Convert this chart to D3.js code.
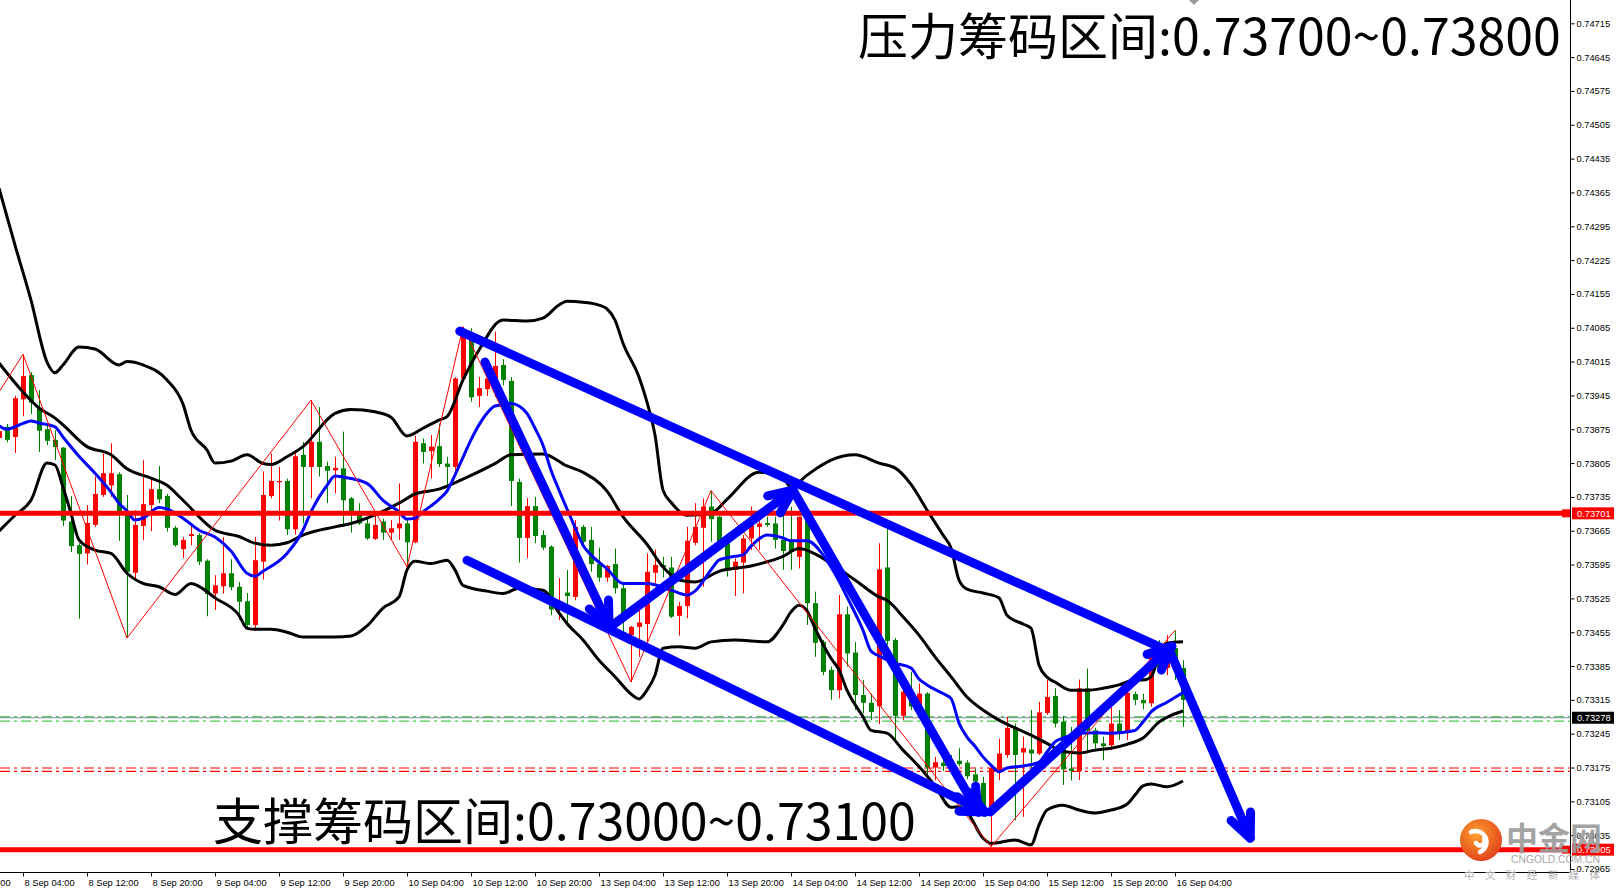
<!DOCTYPE html>
<html><head><meta charset="utf-8">
<script src="https://cdn.jsdelivr.net/npm/d3@7"></script>
<style>
html,body{margin:0;padding:0;background:#fff;overflow:hidden}
svg{display:block}
</style></head><body>
<svg id="c" width="1616" height="891"></svg>
<script>
// ---------------- DATA ----------------
// hourly bars, bar 0 = 8 Sep 01:00 (weekend hours skipped)
const opens=[.73857,.73880,.73859,.73937,.73987,.73919,.73875,.73853,.73837,.73684,
.73635,.73618,.73677,.73739,.73759,.73782,.73699,.73578,.73675,.73718,
.73751,.73737,.73671,.73627,.73654,.73656,.73603,.73535,.73550,.73577,
.73549,.73519,.73470,.73601,.73737,.73766,.73768,.73668,.73822,.73797,
.73849,.73799,.73790,.73794,.73732,.73704,.73680,.73648,.73684,.73661,
.73670,.73680,.73641,.73846,.73830,.73840,.73804,.73797,.73980,.74063,
.73944,.73958,.73977,.74008,.73975,.73766,.73650,.73716,.73656,.73632,
.73501,.73537,.73528,.73673,.73646,.73596,.73568,.73596,.73546,.73449,
.73466,.73472,.73578,.73594,.73589,.73489,.73509,.73640,.73671,.73715,
.73694,.73639,.73584,.73599,.73649,.73673,.73681,.73680,.73646,.73646,
.73611,.73687,.73515,.73435,.73377,.73335,.73492,.73413,.73325,.73309,
.73302,.73589,.73439,.73282,.73321,.73297,.73328,.73175,.73185,.73184,
.73189,.73185,.73161,.73143,.73083,.73170,.73201,.73258,.73206,.73212,
.73204,.73288,.73323,.73270,.73173,.73168,.73339,.73252,.73225,.73221,
.73266,.73246,.73327,.73315,.73308,.73416,.73381,.73422,.73381];
const highs=[.73877,.73886,.73944,.74030,.73993,.73956,.73886,.73873,.73838,.73737,
.73639,.73718,.73777,.73825,.73846,.73786,.73739,.73708,.73811,.73770,
.73799,.73741,.73675,.73652,.73677,.73660,.73606,.73573,.73652,.73606,
.73559,.73536,.73652,.73788,.73825,.73797,.73773,.73832,.73849,.73935,
.73921,.73808,.73818,.73870,.73735,.73722,.73690,.73701,.73690,.73687,
.73763,.73690,.73861,.73856,.73863,.73887,.73818,.73983,.74087,.74084,
.73983,.73994,.74077,.74020,.73983,.73773,.73733,.73735,.73666,.73635,
.73567,.73584,.73687,.73677,.73673,.73630,.73594,.73628,.73559,.73468,
.73521,.73618,.73626,.73611,.73611,.73518,.73673,.73722,.73732,.73748,
.73695,.73649,.73608,.73656,.73715,.73697,.73694,.73694,.73697,.73715,
.73694,.73691,.73539,.73439,.73384,.73532,.73508,.73435,.73356,.73328,
.73639,.73684,.73443,.73342,.73373,.73349,.73331,.73197,.73194,.73201,
.73215,.73190,.73173,.73156,.73177,.73235,.73280,.73266,.73239,.73294,
.73311,.73356,.73339,.73282,.73259,.73357,.73380,.73257,.73239,.73315,
.73294,.73342,.73332,.73328,.73425,.73439,.73449,.73459,.73397];
const lows=[.73853,.73848,.73826,.73902,.73906,.73828,.73842,.73811,.73675,.73621,
.73483,.73595,.73673,.73735,.73735,.73644,.73443,.73564,.73646,.73664,
.73722,.73663,.73632,.73608,.73635,.73594,.73488,.73501,.73535,.73542,
.73481,.73463,.73459,.73564,.73732,.73686,.73656,.73657,.73680,.73732,
.73777,.73722,.73742,.73673,.73661,.73677,.73646,.73646,.73646,.73646,
.73646,.73590,.73639,.73804,.73773,.73797,.73756,.73790,.73977,.73932,
.73921,.73944,.73942,.73966,.73716,.73599,.73608,.73639,.73625,.73490,
.73480,.73474,.73521,.73635,.73580,.73559,.73559,.73535,.73439,.73352,
.73404,.73414,.73555,.73568,.73484,.73448,.73484,.73635,.73549,.73642,
.73630,.73570,.73530,.73535,.73625,.73625,.73673,.73628,.73584,.73584,
.73587,.73470,.73404,.73366,.73315,.73318,.73384,.73294,.73287,.73273,
.73265,.73428,.73232,.73273,.73294,.73287,.73156,.73149,.73168,.73166,
.73178,.73151,.73128,.73073,.73011,.73149,.73195,.73066,.73073,.73163,
.73201,.73284,.73258,.73139,.73148,.73149,.73204,.73208,.73190,.73211,
.73232,.73232,.73304,.73295,.73301,.73373,.73366,.73356,.73259];
const closes=[.73871,.73853,.73939,.73985,.73930,.73872,.73851,.73838,.73686,.73633,
.73617,.73681,.73741,.73784,.73784,.73704,.73580,.73677,.73720,.73751,
.73730,.73671,.73635,.73646,.73658,.73601,.73534,.73552,.73577,.73548,
.73518,.73470,.73604,.73739,.73768,.73768,.73668,.73819,.73797,.73849,
.73797,.73789,.73795,.73728,.73704,.73680,.73649,.73677,.73661,.73670,
.73680,.73641,.73849,.73828,.73839,.73803,.73797,.73980,.74066,.73941,
.73960,.73980,.74006,.73977,.73768,.73650,.73716,.73654,.73630,.73502,
.73511,.73530,.73673,.73642,.73596,.73568,.73592,.73546,.73487,.73466,
.73475,.73580,.73594,.73590,.73487,.73509,.73644,.73673,.73715,.73689,
.73639,.73587,.73601,.73649,.73677,.73680,.73677,.73646,.73623,.73621,
.73694,.73515,.73433,.73373,.73335,.73492,.73411,.73325,.73309,.73290,
.73585,.73437,.73282,.73332,.73301,.73328,.73175,.73186,.73178,.73174,
.73182,.73157,.73146,.73077,.73174,.73204,.73257,.73201,.73215,.73204,
.73289,.73321,.73266,.73171,.73168,.73339,.73251,.73225,.73219,.73266,
.73247,.73330,.73315,.73308,.73417,.73381,.73428,.73381,.73315];

// Bollinger bands [bar, price]
const upperBand=[[0,.74374],[2,.74256],[4,.74142],[6,.74014],[7,.73992],[8,.74008],[10,.74045],[12,.74041],[15,.74008],[16,.74015],[18,.74008],[21,.73977],[23,.73927],[24,.73873],[26,.73832],[27,.73805],[29,.73809],[31,.73822],[33,.73804],[34,.73802],[36,.73818],[38,.73839],[42,.73908],[44,.73916],[47,.73911],[49,.73900],[51,.73861],[53,.73877],[55,.73894],[56,.73901],[58,.73977],[60,.74039],[63,.74101],[66,.74099],[68,.74105],[70,.74132],[71,.74140],[73,.74138],[75,.74132],[76,.74124],[77,.74101],[78,.74053],[80,.73983],[81,.73931],[82,.73863],[83,.73749],[84,.73724],[86,.73697],[89,.73701],[91,.73730],[95,.73786],[98,.73774],[99,.73755],[101,.73780],[104,.73811],[107,.73822],[110,.73805],[112,.73795],[114,.73761],[116,.73708],[118,.73656],[119,.73629],[120,.73563],[121,.73544],[123,.73536],[125,.73526],[126,.73490],[128,.73472],[129,.73463],[130,.73387],[131,.73362],[132,.73352],[134,.73335],[136,.73335],[138,.73339],[140,.73346],[142,.73356],[143,.73356],[144,.73362],[145,.73408],[146,.73432],[148,.73435]];
const middleBand=[[0,.74012],[3,.73952],[5,.73919],[7,.73898],[8,.73884],[11,.73839],[14,.73822],[16,.73793],[19,.73774],[21,.73759],[23,.73728],[27,.73666],[30,.73653],[32,.73639],[34,.73635],[36,.73640],[38,.73656],[42,.73673],[44,.73680],[46,.73691],[50,.73722],[52,.73741],[55,.73751],[58,.73772],[62,.73804],[64,.73822],[68,.73824],[71,.73799],[73,.73786],[76,.73747],[78,.73694],[81,.73637],[83,.73590],[85,.73563],[87,.73559],[90,.73581],[94,.73592],[98,.73612],[100,.73628],[102,.73617],[104,.73597],[107,.73563],[110,.73528],[111,.73521],[113,.73487],[115,.73449],[117,.73404],[119,.73363],[121,.73321],[123,.73294],[125,.73273],[127,.73257],[129,.73242],[131,.73225],[133,.73208],[135,.73205],[137,.73211],[139,.73215],[141,.73223],[143,.73236],[145,.73269],[146,.73279],[148,.73292]];
const lowerBand=[[0,.73664],[2,.73697],[4,.73728],[6,.73805],[7,.73801],[8,.73755],[9,.73701],[10,.73646],[12,.73625],[14,.73618],[16,.73577],[18,.73556],[20,.73549],[22,.73533],[24,.73556],[25,.73550],[27,.73526],[30,.73490],[31,.73463],[32,.73461],[34,.73461],[36,.73455],[38,.73445],[42,.73445],[44,.73447],[46,.73468],[48,.73505],[50,.73528],[51,.73584],[52,.73602],[54,.73597],[56,.73604],[57,.73584],[58,.73552],[61,.73540],[63,.73535],[65,.73546],[68,.73542],[70,.73495],[71,.73473],[73,.73439],[75,.73397],[77,.73363],[79,.73327],[80,.73317],[81,.73335],[82,.73366],[83,.73422],[85,.73425],[87,.73422],[89,.73435],[92,.73439],[96,.73435],[98,.73470],[99,.73497],[100,.73511],[101,.73499],[102,.73463],[104,.73401],[105,.73377],[106,.73335],[108,.73280],[109,.73252],[111,.73246],[113,.73211],[115,.73177],[117,.73137],[119,.73093],[120,.73094],[121,.73083],[123,.73029],[124,.73018],[127,.73025],[129,.73015],[130,.73056],[131,.73087],[133,.73097],[135,.73087],[137,.73081],[139,.73087],[141,.73099],[142,.73118],[143,.73137],[144,.73141],[146,.73135],[148,.73147]];
// blue moving average
const maLine=[[0,.73882],[1,.73875],[3,.73887],[4,.73892],[5,.73888],[7,.73880],[8,.73859],[10,.73819],[12,.73784],[14,.73745],[15,.73722],[16,.73706],[17,.73687],[18,.73691],[20,.73713],[21,.73710],[23,.73691],[25,.73666],[27,.73652],[29,.73623],[31,.73577],[32,.73571],[33,.73581],[36,.73618],[38,.73666],[39,.73704],[41,.73759],[42,.73778],[43,.73776],[46,.73763],[48,.73728],[50,.73704],[51,.73689],[52,.73691],[53,.73704],[55,.73730],[56,.73747],[57,.73780],[58,.73817],[59,.73853],[60,.73884],[61,.73908],[62,.73923],[64,.73928],[65,.73923],[66,.73908],[67,.73877],[68,.73842],[69,.73790],[70,.73749],[71,.73710],[72,.73672],[73,.73635],[74,.73615],[76,.73586],[78,.73556],[81,.73556],[84,.73542],[86,.73532],[87,.73540],[89,.73584],[90,.73604],[92,.73612],[93,.73615],[94,.73633],[96,.73656],[98,.73650],[99,.73644],[101,.73644],[103,.73615],[104,.73590],[105,.73561],[106,.73528],[108,.73459],[109,.73416],[110,.73406],[112,.73391],[114,.73381],[115,.73358],[116,.73346],[118,.73328],[119,.73318],[120,.73267],[121,.73238],[122,.73219],[123,.73197],[124,.73180],[125,.73166],[126,.73174],[128,.73178],[130,.73186],[131,.73207],[132,.73228],[133,.73236],[135,.73246],[137,.73247],[139,.73246],[141,.73249],[142,.73252],[143,.73269],[144,.73290],[146,.73310],[148,.73330]];
// zigzag vertices
const zigzag=[[0,.73952],[3,.74030],[16,.73443],[39,.73935],[51,.73590],[58,.74087],[79,.73352],[89,.73748],[124,.73011],[147,.73459]];

// horizontal levels
const resistanceLevel=.73701, supportLevel=.73005, bidLevel=.73278;
const greenLevels=[.73280,.73271];
const redDashLevels=[.73174,.73167];

// price axis ticks
const priceTicks=[.72965,.73035,.73105,.73175,.73245,.73315,.73385,.73455,.73525,.73595,.73665,.73735,.73805,.73875,.73945,.74015,.74085,.74155,.74225,.74295,.74365,.74435,.74505,.74575,.74645,.74715];
// time axis ticks (bar index, label)
const timeTickBars=[-5,3,11,19,27,35,43,51,59,67,75,83,91,99,107,115,123,131,139,147];
const timeTickLabels=["7 Sep 20:00","8 Sep 04:00","8 Sep 12:00","8 Sep 20:00","9 Sep 04:00","9 Sep 12:00","9 Sep 20:00","10 Sep 04:00","10 Sep 12:00","10 Sep 20:00","13 Sep 04:00","13 Sep 12:00","13 Sep 20:00","14 Sep 04:00","14 Sep 12:00","14 Sep 20:00","15 Sep 04:00","15 Sep 12:00","15 Sep 20:00","16 Sep 04:00"];

// hand-drawn blue arrows [bar, price]
const arrowFrom=[[57.6,.74078],[60.75,.74014],[58.5,.73604],[76.25,.73464],[99.25,.73749],[123.9,.73083],[146.4,.73414]];
const arrowTo=[[145.4,.73422],[76.25,.73468],[123.25,.73083],[99.25,.73749],[122.4,.73083],[146.6,.73426],[156.4,.73029]];
const arrowHead=[false,true,true,true,true,true,true];

const resistText="压力筹码区间:0.73700~0.73800";
const supportText="支撑筹码区间:0.73000~0.73100";

// ---------------- DRAW ----------------
const svg=d3.select("#c");
const PR=1570, PB=872;
const x=d3.scaleLinear().domain([0,196]).range([-1,1567]);
const y=d3.scaleLinear().domain([0.72965,0.74715]).range([869,23.3]);

const plot=svg.append("g");
plot.append("defs").append("clipPath").attr("id","clip").append("rect").attr("x",0).attr("y",0).attr("width",PR).attr("height",PB);
const g=plot.append("g").attr("clip-path","url(#clip)");

// dashed levels
const dashes="10,4,3,4";
greenLevels.forEach(v=>g.append("line").attr("x1",0).attr("x2",PR).attr("y1",y(v)).attr("y2",y(v)).attr("stroke","#22b822").attr("stroke-width",1).attr("stroke-dasharray",dashes));
redDashLevels.forEach(v=>g.append("line").attr("x1",0).attr("x2",PR).attr("y1",y(v)).attr("y2",y(v)).attr("stroke","#ff0000").attr("stroke-width",1.2).attr("stroke-dasharray",dashes));
g.append("line").attr("x1",0).attr("x2",PR).attr("y1",y(bidLevel)).attr("y2",y(bidLevel)).attr("stroke","#778899").attr("stroke-width",1);

// candles
const bars=d3.range(opens.length);
const cg=g.append("g");
bars.forEach(i=>{
  const o=opens[i],c=closes[i],h=highs[i],l=lows[i];
  const col=c>=o?"#ff0000":"#008000";
  const cx=Math.round(x(i));
  cg.append("rect").attr("x",cx).attr("width",1).attr("y",y(h)).attr("height",Math.max(1,y(l)-y(h))).attr("fill",col);
  const top=y(Math.max(o,c)), bot=y(Math.min(o,c));
  cg.append("rect").attr("x",cx-2).attr("width",5).attr("y",top).attr("height",Math.max(1.2,bot-top)).attr("fill",col);
});

// bands & MA
const line=d3.line().x(d=>x(d[0])).y(d=>y(d[1])).curve(d3.curveMonotoneX);
[upperBand,middleBand,lowerBand].forEach(b=>g.append("path").attr("d",line(b)).attr("fill","none").attr("stroke","#000").attr("stroke-width",3).attr("stroke-linejoin","round"));
g.append("path").attr("d",line(maLine)).attr("fill","none").attr("stroke","#0000ff").attr("stroke-width",3).attr("stroke-linejoin","round");
// zigzag
g.append("path").attr("d",d3.line().x(d=>x(d[0])).y(d=>y(d[1]))(zigzag)).attr("fill","none").attr("stroke","#ff0000").attr("stroke-width",1);

// solid red levels
[resistanceLevel,supportLevel].forEach(v=>{
  g.append("line").attr("x1",0).attr("x2",PR).attr("y1",y(v)).attr("y2",y(v)).attr("stroke","#ff0000").attr("stroke-width",5);
  g.append("rect").attr("x",PR-8).attr("y",y(v)-4).attr("width",8).attr("height",8).attr("fill","#ff0000");
});

// arrows
const ag=svg.append("g").attr("stroke","#0000ff").attr("stroke-width",9).attr("stroke-linecap","round").attr("fill","none");
arrowFrom.forEach((f,k)=>{
  const x0=x(f[0]),y0=y(f[1]),x1=x(arrowTo[k][0]),y1=y(arrowTo[k][1]);
  ag.append("line").attr("x1",x0).attr("y1",y0).attr("x2",x1).attr("y2",y1);
  if(arrowHead[k]){
    const a=Math.atan2(y0-y1,x0-x1), L=26, s=0.42;
    [a-s,a+s].forEach(b=>ag.append("line").attr("x1",x1).attr("y1",y1).attr("x2",x1+L*Math.cos(b)).attr("y2",y1+L*Math.sin(b)));
  }
});

// axes
const axFont="Liberation Sans, Arial, sans-serif";
svg.append("line").attr("x1",PR+0.5).attr("x2",PR+0.5).attr("y1",0).attr("y2",PB).attr("stroke","#000");
svg.append("line").attr("x1",0).attr("x2",PR).attr("y1",PB+0.5).attr("y2",PB+0.5).attr("stroke","#000");
const ya=svg.append("g").attr("transform",`translate(${PR+0.5},0)`).call(d3.axisRight(y).tickValues(priceTicks).tickSize(4).tickSizeOuter(0).tickPadding(2).tickFormat(d3.format(".5f")));
ya.select(".domain").remove();
ya.selectAll("text").attr("font-family",axFont).attr("font-size",9.3).attr("fill","#000");
const xa=svg.append("g").attr("transform",`translate(0,${PB+0.5})`).call(d3.axisBottom(x).tickValues(timeTickBars).tickSize(4).tickSizeOuter(0).tickFormat((d,i)=>timeTickLabels[i]));
xa.select(".domain").remove();
xa.selectAll("text").attr("font-family",axFont).attr("font-size",9.3).attr("fill","#000").attr("text-anchor","start").attr("x",1).attr("y",7);

// price tags
function tag(v,bg){
  const cy=y(v);
  svg.append("rect").attr("x",PR+2).attr("y",cy-6).attr("width",42).attr("height",12).attr("fill",bg);
  svg.append("text").attr("x",PR+7).attr("y",cy+3.5).attr("font-family",axFont).attr("font-size",9.3).attr("fill","#fff").text(d3.format(".5f")(v));
}
tag(resistanceLevel,"#ff0000");
tag(bidLevel,"#000000");
tag(supportLevel,"#ff0000");

// shift marker
svg.append("path").attr("d","M1189,0 L1199,0 L1194,5 Z").attr("fill","#9a9a9a");

// big texts
const cjk="'Noto Sans CJK SC', 'Noto Sans', sans-serif";
function bigText(str,x0,base,w){
  const t=svg.append("text").attr("x",x0).attr("y",base).attr("font-family",cjk).attr("font-size",50).attr("fill","#000").text(str);
  const len=t.node().getComputedTextLength();
  t.attr("font-size",50*w/len);
}
bigText(resistText,858,55,703);
bigText(supportText,213,840,703);

// watermark
const wm=svg.append("g");
const grad=svg.append("defs").append("radialGradient").attr("id","lg").attr("cx","40%").attr("cy","35%").attr("r","70%");
grad.append("stop").attr("offset","0%").attr("stop-color","#ffa030");
grad.append("stop").attr("offset","100%").attr("stop-color","#e0401a");
wm.append("circle").attr("cx",1481).attr("cy",840).attr("r",21).attr("fill","url(#lg)");
wm.append("path").attr("d","M1471,832 A10,10 0 1 1 1480,852 M1476,843 A4,4 0 1 0 1484,839").attr("fill","none").attr("stroke","#fff").attr("stroke-width",4.5).attr("stroke-linecap","round");
wm.append("text").attr("x",1506).attr("y",850).attr("font-family",cjk).attr("font-weight","bold").attr("font-size",32).attr("fill","#9c9c9c").attr("opacity",0.92).text("中金网");
wm.append("text").attr("x",1511).attr("y",863).attr("font-family",axFont).attr("font-size",10).attr("fill","#a8a8a8").attr("textLength",89).attr("lengthAdjust","spacingAndGlyphs").text("CNGOLD.COM.CN");
wm.append("text").attr("x",1464).attr("y",879).attr("font-family",cjk).attr("font-size",10.5).attr("fill","#b0b0b0").attr("textLength",136).attr("lengthAdjust","spacing").text("中文财经新媒体");
</script>
</body></html>
